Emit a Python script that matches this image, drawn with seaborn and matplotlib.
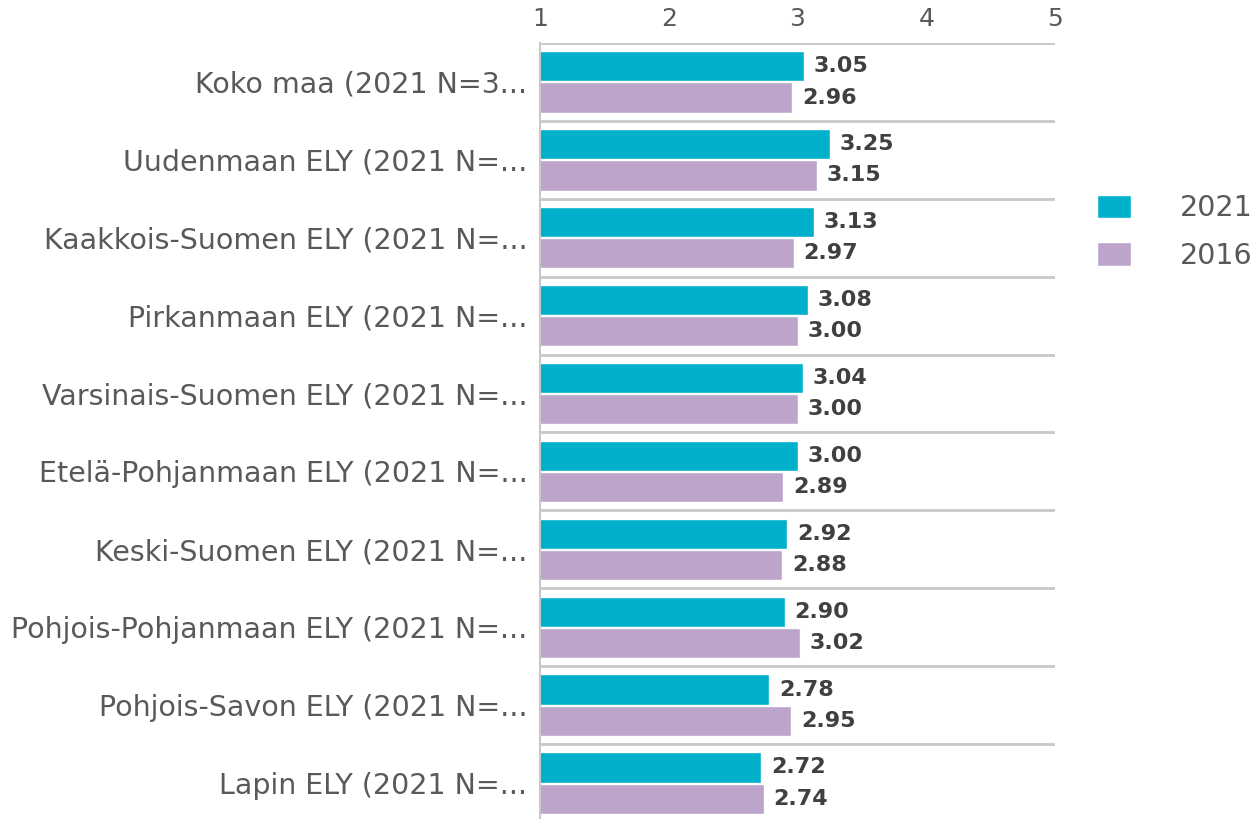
import numpy as np
import pandas as pd
import matplotlib
matplotlib.use("Agg")
import matplotlib.pyplot as plt
import seaborn as sns
from matplotlib.ticker import FixedLocator

categories = [
    "Koko maa (2021 N=3...",
    "Uudenmaan ELY (2021 N=...",
    "Kaakkois-Suomen ELY (2021 N=...",
    "Pirkanmaan ELY (2021 N=...",
    "Varsinais-Suomen ELY (2021 N=...",
    "Etelä-Pohjanmaan ELY (2021 N=...",
    "Keski-Suomen ELY (2021 N=...",
    "Pohjois-Pohjanmaan ELY (2021 N=...",
    "Pohjois-Savon ELY (2021 N=...",
    "Lapin ELY (2021 N=...",
]
years = ["2021", "2016"]
values_2021 = [3.05, 3.25, 3.13, 3.08, 3.04, 3.00, 2.92, 2.90, 2.78, 2.72]
values_2016 = [2.96, 3.15, 2.97, 3.00, 3.00, 2.89, 2.88, 3.02, 2.95, 2.74]
xticks = [1, 2, 3, 4, 5]

colors = ["#00B0CB", "#BDA4CB"]

df = pd.DataFrame({
    "category": categories * 2,
    "year": [years[0]] * len(categories) + [years[1]] * len(categories),
    "value": values_2021 + values_2016,
})

sns.set_style("white")
plt.rcParams["font.family"] = ["DejaVu Sans"]

fig = plt.figure(figsize=(12.53, 8.19), dpi=100)
ax = fig.add_axes([540 / 1253, (819 - 822) / 819, (1055 - 540) / 1253, 779 / 819])

sns.barplot(data=df, y="category", x="value", hue="year", palette=colors,
            orient="h", width=0.8, gap=0.03, saturation=1, ax=ax, legend=True)

ax.set_xlim(1, 5)
ax.set_ylim(len(categories) - 0.5, -0.5)
ax.xaxis.tick_top()
ax.set_xticks(xticks)
ax.set_xticklabels([str(t) for t in xticks])
ax.set_xlabel("")
ax.set_ylabel("")
ax.tick_params(axis="x", length=0, labelsize=18, colors="#595959", pad=9)
ax.tick_params(axis="y", length=0, labelsize=20.5, colors="#595959", pad=9)

# category separators
ax.yaxis.set_minor_locator(FixedLocator(np.arange(-0.5, len(categories), 1.0)))
ax.grid(axis="y", which="minor", color="#C8C8C8", lw=2)
ax.grid(axis="y", which="major", visible=False)
ax.tick_params(axis="y", which="minor", length=0)

for s in ["top", "right", "bottom"]:
    ax.spines[s].set_visible(False)
ax.spines["left"].set_color("#C8C8C8")
ax.spines["left"].set_linewidth(1.5)

for cont in ax.containers:
    ax.bar_label(cont, fmt="%.2f", padding=7, fontsize=16, fontweight="bold",
                 color="#404040")

handles, labels = ax.get_legend_handles_labels()
ax.legend(handles, labels, loc="center left", bbox_transform=fig.transFigure,
          bbox_to_anchor=(1097 / 1253, 1 - 232 / 819), borderpad=0, borderaxespad=0,
          frameon=False, fontsize=20.5, labelcolor="#595959",
          handlelength=1.2, handleheight=0.9, handletextpad=1.7, labelspacing=0.68)

fig.savefig("out.png", dpi=100)
